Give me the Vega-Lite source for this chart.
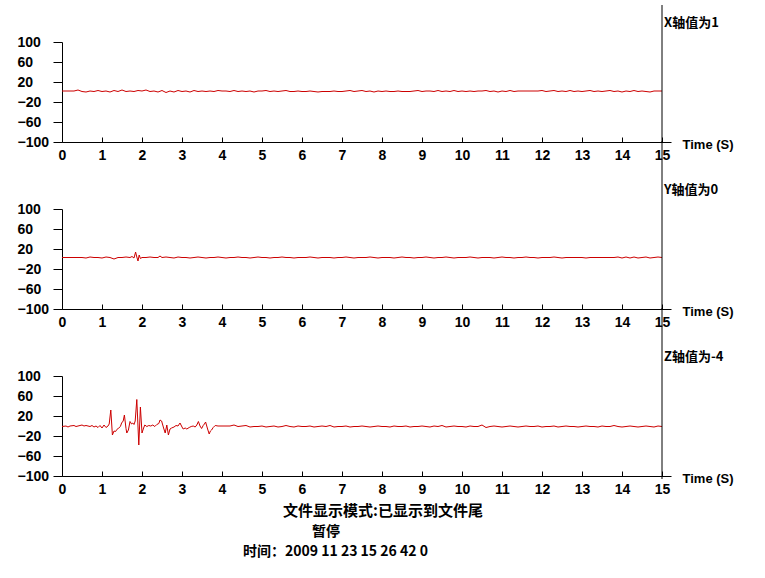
{
  "$schema": "https://vega.github.io/schema/vega-lite/v6.json",
  "padding": {"left": 17, "top": 4, "right": 5, "bottom": 5},
  "autosize": {"type": "pad"},
  "background": "white",
  "config": {"view": {"stroke": null}, "axis": {"grid": false, "labelOverlap": false, "domainColor": "black", "tickColor": "black", "labelColor": "black", "titleColor": "black", "labelFont": "Liberation Sans", "labelFontSize": 14, "labelFontWeight": "bold", "titleFont": "Liberation Sans", "titleFontSize": 13, "titleFontWeight": "bold"}},
  "spacing": 67,
  "bounds": "flush",
  "datasets": {
    "xs": [{"t":0,"v":2},{"t":0.1,"v":2},{"t":0.2,"v":2},{"t":0.3,"v":2},{"t":0.4,"v":4},{"t":0.5,"v":1},{"t":0.6,"v":0},{"t":0.7,"v":2},{"t":0.8,"v":1},{"t":0.9,"v":3},{"t":1.0,"v":1},{"t":1.1,"v":2},{"t":1.2,"v":0},{"t":1.3,"v":3},{"t":1.4,"v":1},{"t":1.5,"v":4},{"t":1.6,"v":1},{"t":1.7,"v":2},{"t":1.8,"v":1},{"t":1.9,"v":3},{"t":2.0,"v":2},{"t":2.1,"v":4},{"t":2.2,"v":1},{"t":2.3,"v":2},{"t":2.4,"v":0},{"t":2.5,"v":3},{"t":2.6,"v":-1},{"t":2.7,"v":2},{"t":2.8,"v":0},{"t":2.9,"v":3},{"t":3.0,"v":1},{"t":3.1,"v":2},{"t":3.2,"v":0},{"t":3.3,"v":3},{"t":3.4,"v":1},{"t":3.5,"v":2},{"t":3.6,"v":1},{"t":3.7,"v":2},{"t":3.8,"v":1},{"t":3.9,"v":3},{"t":4.0,"v":2},{"t":4.1,"v":2},{"t":4.2,"v":1},{"t":4.3,"v":3},{"t":4.4,"v":1},{"t":4.5,"v":2},{"t":4.6,"v":1},{"t":4.7,"v":2},{"t":4.8,"v":0},{"t":4.9,"v":2},{"t":5.0,"v":2},{"t":5.1,"v":3},{"t":5.2,"v":1},{"t":5.3,"v":2},{"t":5.4,"v":1},{"t":5.5,"v":2},{"t":5.6,"v":3},{"t":5.7,"v":1},{"t":5.8,"v":1},{"t":5.9,"v":2},{"t":6.0,"v":1},{"t":6.1,"v":1},{"t":6.2,"v":2},{"t":6.3,"v":1},{"t":6.4,"v":0},{"t":6.5,"v":1},{"t":6.6,"v":1},{"t":6.7,"v":1},{"t":6.8,"v":2},{"t":6.9,"v":1},{"t":7.0,"v":1},{"t":7.1,"v":2},{"t":7.2,"v":3},{"t":7.3,"v":1},{"t":7.4,"v":2},{"t":7.5,"v":3},{"t":7.6,"v":1},{"t":7.7,"v":2},{"t":7.8,"v":0},{"t":7.9,"v":2},{"t":8.0,"v":1},{"t":8.1,"v":2},{"t":8.2,"v":1},{"t":8.3,"v":1},{"t":8.4,"v":2},{"t":8.5,"v":1},{"t":8.6,"v":1},{"t":8.7,"v":1},{"t":8.8,"v":2},{"t":8.9,"v":3},{"t":9.0,"v":1},{"t":9.1,"v":2},{"t":9.2,"v":2},{"t":9.3,"v":1},{"t":9.4,"v":3},{"t":9.5,"v":1},{"t":9.6,"v":2},{"t":9.7,"v":1},{"t":9.8,"v":3},{"t":9.9,"v":1},{"t":10.0,"v":2},{"t":10.1,"v":1},{"t":10.2,"v":2},{"t":10.3,"v":1},{"t":10.4,"v":2},{"t":10.5,"v":2},{"t":10.6,"v":3},{"t":10.7,"v":1},{"t":10.8,"v":2},{"t":10.9,"v":0},{"t":11.0,"v":2},{"t":11.1,"v":1},{"t":11.2,"v":3},{"t":11.3,"v":1},{"t":11.4,"v":2},{"t":11.5,"v":2},{"t":11.6,"v":2},{"t":11.7,"v":2},{"t":11.8,"v":2},{"t":11.9,"v":2},{"t":12.0,"v":3},{"t":12.1,"v":1},{"t":12.2,"v":2},{"t":12.3,"v":3},{"t":12.4,"v":1},{"t":12.5,"v":2},{"t":12.6,"v":1},{"t":12.7,"v":3},{"t":12.8,"v":1},{"t":12.9,"v":2},{"t":13.0,"v":1},{"t":13.1,"v":2},{"t":13.2,"v":3},{"t":13.3,"v":1},{"t":13.4,"v":2},{"t":13.5,"v":1},{"t":13.6,"v":2},{"t":13.7,"v":3},{"t":13.8,"v":1},{"t":13.9,"v":2},{"t":14.0,"v":0},{"t":14.1,"v":2},{"t":14.2,"v":1},{"t":14.3,"v":3},{"t":14.4,"v":1},{"t":14.5,"v":2},{"t":14.6,"v":1},{"t":14.7,"v":0},{"t":14.8,"v":2},{"t":14.9,"v":2},{"t":15.0,"v":2}],
    "ys": [{"t":0,"v":3},{"t":0.1,"v":3},{"t":0.2,"v":3},{"t":0.3,"v":3},{"t":0.4,"v":3},{"t":0.5,"v":3},{"t":0.6,"v":2},{"t":0.7,"v":4},{"t":0.8,"v":3},{"t":0.9,"v":3},{"t":1.0,"v":2},{"t":1.1,"v":4},{"t":1.2,"v":3},{"t":1.3,"v":0},{"t":1.4,"v":3},{"t":1.5,"v":3},{"t":1.6,"v":4},{"t":1.7,"v":3},{"t":1.75,"v":5},{"t":1.8,"v":2},{"t":1.84,"v":14},{"t":1.87,"v":4},{"t":1.9,"v":-4},{"t":1.93,"v":8},{"t":1.96,"v":1},{"t":2.0,"v":3},{"t":2.1,"v":3},{"t":2.2,"v":4},{"t":2.3,"v":3},{"t":2.4,"v":3},{"t":2.45,"v":6},{"t":2.5,"v":3},{"t":2.6,"v":4},{"t":2.7,"v":3},{"t":2.8,"v":2},{"t":2.9,"v":4},{"t":3.0,"v":3},{"t":3.1,"v":3},{"t":3.2,"v":2},{"t":3.3,"v":3},{"t":3.4,"v":4},{"t":3.5,"v":3},{"t":3.6,"v":2},{"t":3.7,"v":3},{"t":3.8,"v":3},{"t":3.9,"v":4},{"t":4.0,"v":3},{"t":4.1,"v":2},{"t":4.2,"v":3},{"t":4.3,"v":3},{"t":4.4,"v":4},{"t":4.5,"v":3},{"t":4.6,"v":3},{"t":4.7,"v":2},{"t":4.8,"v":3},{"t":4.9,"v":4},{"t":5.0,"v":3},{"t":5.1,"v":3},{"t":5.2,"v":2},{"t":5.3,"v":3},{"t":5.4,"v":3},{"t":5.5,"v":4},{"t":5.6,"v":3},{"t":5.7,"v":3},{"t":5.8,"v":2},{"t":5.9,"v":3},{"t":6.0,"v":3},{"t":6.1,"v":3},{"t":6.2,"v":4},{"t":6.3,"v":3},{"t":6.4,"v":2},{"t":6.5,"v":3},{"t":6.6,"v":3},{"t":6.7,"v":3},{"t":6.8,"v":2},{"t":6.9,"v":3},{"t":7.0,"v":3},{"t":7.1,"v":4},{"t":7.2,"v":3},{"t":7.3,"v":2},{"t":7.4,"v":3},{"t":7.5,"v":3},{"t":7.6,"v":3},{"t":7.7,"v":4},{"t":7.8,"v":3},{"t":7.9,"v":2},{"t":8.0,"v":3},{"t":8.1,"v":3},{"t":8.2,"v":3},{"t":8.3,"v":2},{"t":8.4,"v":3},{"t":8.5,"v":4},{"t":8.6,"v":3},{"t":8.7,"v":3},{"t":8.8,"v":2},{"t":8.9,"v":3},{"t":9.0,"v":3},{"t":9.1,"v":4},{"t":9.2,"v":3},{"t":9.3,"v":2},{"t":9.4,"v":3},{"t":9.5,"v":3},{"t":9.6,"v":4},{"t":9.7,"v":3},{"t":9.8,"v":2},{"t":9.9,"v":3},{"t":10.0,"v":3},{"t":10.1,"v":3},{"t":10.2,"v":4},{"t":10.3,"v":3},{"t":10.4,"v":2},{"t":10.5,"v":3},{"t":10.6,"v":3},{"t":10.7,"v":3},{"t":10.8,"v":2},{"t":10.9,"v":3},{"t":11.0,"v":4},{"t":11.1,"v":3},{"t":11.2,"v":3},{"t":11.3,"v":2},{"t":11.4,"v":3},{"t":11.5,"v":3},{"t":11.6,"v":4},{"t":11.7,"v":3},{"t":11.8,"v":3},{"t":11.9,"v":2},{"t":12.0,"v":3},{"t":12.1,"v":3},{"t":12.2,"v":3},{"t":12.3,"v":4},{"t":12.4,"v":3},{"t":12.5,"v":2},{"t":12.6,"v":3},{"t":12.7,"v":3},{"t":12.8,"v":3},{"t":12.9,"v":3},{"t":13.0,"v":3},{"t":13.1,"v":2},{"t":13.2,"v":3},{"t":13.3,"v":3},{"t":13.4,"v":3},{"t":13.5,"v":3},{"t":13.6,"v":3},{"t":13.7,"v":3},{"t":13.8,"v":3},{"t":13.9,"v":4},{"t":14.0,"v":2},{"t":14.1,"v":4},{"t":14.2,"v":2},{"t":14.3,"v":4},{"t":14.4,"v":2},{"t":14.5,"v":3},{"t":14.6,"v":4},{"t":14.7,"v":2},{"t":14.8,"v":3},{"t":14.9,"v":4},{"t":15.0,"v":3}],
    "zs": [{"t":0,"v":-1},{"t":0.1,"v":0},{"t":0.15,"v":-2},{"t":0.2,"v":0},{"t":0.3,"v":1},{"t":0.35,"v":-1},{"t":0.4,"v":0},{"t":0.5,"v":2},{"t":0.55,"v":0},{"t":0.6,"v":1},{"t":0.7,"v":-1},{"t":0.75,"v":1},{"t":0.8,"v":-2},{"t":0.85,"v":0},{"t":0.9,"v":-3},{"t":0.95,"v":1},{"t":1.0,"v":-4},{"t":1.05,"v":2},{"t":1.1,"v":-3},{"t":1.15,"v":0},{"t":1.18,"v":4},{"t":1.22,"v":32},{"t":1.26,"v":-18},{"t":1.3,"v":-10},{"t":1.34,"v":-11},{"t":1.37,"v":-7},{"t":1.42,"v":-4},{"t":1.46,"v":-1},{"t":1.49,"v":6},{"t":1.53,"v":10},{"t":1.56,"v":22},{"t":1.6,"v":-5},{"t":1.62,"v":-14},{"t":1.66,"v":-8},{"t":1.7,"v":9},{"t":1.74,"v":4},{"t":1.77,"v":6},{"t":1.8,"v":3},{"t":1.83,"v":10},{"t":1.87,"v":53},{"t":1.92,"v":-38},{"t":1.96,"v":38},{"t":2.0,"v":-14},{"t":2.04,"v":-4},{"t":2.07,"v":2},{"t":2.12,"v":-1},{"t":2.17,"v":1},{"t":2.22,"v":0},{"t":2.27,"v":2},{"t":2.32,"v":-1},{"t":2.37,"v":3},{"t":2.42,"v":5},{"t":2.45,"v":12},{"t":2.49,"v":10},{"t":2.54,"v":-4},{"t":2.58,"v":-14},{"t":2.62,"v":2},{"t":2.66,"v":-18},{"t":2.7,"v":-6},{"t":2.74,"v":-4},{"t":2.8,"v":-2},{"t":2.85,"v":1},{"t":2.9,"v":0},{"t":2.95,"v":6},{"t":3.0,"v":-2},{"t":3.03,"v":-6},{"t":3.08,"v":-4},{"t":3.12,"v":-6},{"t":3.18,"v":-3},{"t":3.23,"v":-1},{"t":3.28,"v":0},{"t":3.33,"v":-2},{"t":3.37,"v":2},{"t":3.41,"v":9},{"t":3.45,"v":0},{"t":3.49,"v":-5},{"t":3.53,"v":1},{"t":3.56,"v":4},{"t":3.59,"v":8},{"t":3.64,"v":-6},{"t":3.68,"v":-16},{"t":3.71,"v":-10},{"t":3.74,"v":-8},{"t":3.78,"v":-3},{"t":3.83,"v":1},{"t":3.9,"v":0},{"t":4.0,"v":0},{"t":4.1,"v":0},{"t":4.2,"v":0},{"t":4.3,"v":2},{"t":4.4,"v":-1},{"t":4.5,"v":0},{"t":4.6,"v":1},{"t":4.7,"v":-2},{"t":4.8,"v":-1},{"t":4.9,"v":-1},{"t":5.0,"v":0},{"t":5.1,"v":-2},{"t":5.2,"v":-1},{"t":5.3,"v":0},{"t":5.4,"v":-2},{"t":5.5,"v":-1},{"t":5.6,"v":1},{"t":5.7,"v":-1},{"t":5.8,"v":-2},{"t":5.9,"v":0},{"t":6.0,"v":-1},{"t":6.1,"v":-1},{"t":6.2,"v":0},{"t":6.3,"v":-2},{"t":6.4,"v":-1},{"t":6.5,"v":0},{"t":6.6,"v":-1},{"t":6.7,"v":1},{"t":6.8,"v":-2},{"t":6.9,"v":-1},{"t":7.0,"v":-1},{"t":7.1,"v":0},{"t":7.2,"v":-2},{"t":7.3,"v":-1},{"t":7.4,"v":-1},{"t":7.5,"v":0},{"t":7.6,"v":-1},{"t":7.7,"v":-2},{"t":7.8,"v":-1},{"t":7.9,"v":0},{"t":8.0,"v":-1},{"t":8.1,"v":-1},{"t":8.2,"v":-2},{"t":8.3,"v":0},{"t":8.4,"v":-1},{"t":8.5,"v":-1},{"t":8.6,"v":0},{"t":8.7,"v":-2},{"t":8.8,"v":-1},{"t":8.9,"v":-1},{"t":9.0,"v":0},{"t":9.1,"v":-1},{"t":9.2,"v":-2},{"t":9.3,"v":0},{"t":9.4,"v":-1},{"t":9.5,"v":1},{"t":9.6,"v":-2},{"t":9.7,"v":-1},{"t":9.8,"v":0},{"t":9.9,"v":-1},{"t":10.0,"v":-1},{"t":10.1,"v":-2},{"t":10.2,"v":0},{"t":10.3,"v":-1},{"t":10.4,"v":-1},{"t":10.5,"v":2},{"t":10.6,"v":-3},{"t":10.7,"v":-1},{"t":10.8,"v":0},{"t":10.9,"v":-1},{"t":11.0,"v":-2},{"t":11.1,"v":-1},{"t":11.2,"v":0},{"t":11.3,"v":-1},{"t":11.4,"v":-2},{"t":11.5,"v":-1},{"t":11.6,"v":0},{"t":11.7,"v":-1},{"t":11.8,"v":-1},{"t":11.9,"v":0},{"t":12.0,"v":-2},{"t":12.1,"v":-1},{"t":12.2,"v":-1},{"t":12.3,"v":0},{"t":12.4,"v":-2},{"t":12.5,"v":-1},{"t":12.6,"v":0},{"t":12.7,"v":-1},{"t":12.8,"v":-1},{"t":12.9,"v":-2},{"t":13.0,"v":-1},{"t":13.1,"v":0},{"t":13.2,"v":-1},{"t":13.3,"v":-1},{"t":13.4,"v":-2},{"t":13.5,"v":0},{"t":13.6,"v":-1},{"t":13.7,"v":-1},{"t":13.8,"v":1},{"t":13.9,"v":-1},{"t":14.0,"v":-2},{"t":14.1,"v":-1},{"t":14.2,"v":0},{"t":14.3,"v":-1},{"t":14.4,"v":-2},{"t":14.5,"v":-1},{"t":14.6,"v":0},{"t":14.7,"v":-1},{"t":14.8,"v":-2},{"t":14.9,"v":0},{"t":15.0,"v":-1}]
  },
  "vconcat": [
    {
      "width": 609, "height": 100,
      "layer": [
        {"data": {"name": "xs"}, "mark": {"type": "line", "color": "#cc0000", "strokeWidth": 1},
         "encoding": {
           "x": {"field": "t", "type": "quantitative", "scale": {"domain": [0, 15.225], "nice": false, "zero": false},
                 "axis": {"values": [0,1,2,3,4,5,6,7,8,9,10,11,12,13,14,15], "tickCount": 20, "format": "d", "tickSize": -5, "labelPadding": 11, "labelFlush": false, "labelOverlap": false, "title": "Time (S)", "titleX": 620, "titleY": 2, "titleAlign": "left", "titleBaseline": "middle", "titleAngle": 0}},
           "y": {"field": "v", "type": "quantitative", "scale": {"domain": [-100, 100], "nice": false, "zero": false},
                 "axis": {"values": [-100,-60,-20,20,60,100], "tickCount": 10, "tickSize": 9, "labelPadding": 36, "labelAlign": "left", "title": null, "labelOverlap": false}}
         }},
        {"data": {"values": [{}]}, "mark": {"type": "rule", "color": "black", "strokeWidth": 1},
         "encoding": {"x": {"datum": 15}, "y": {"datum": 174}, "y2": {"datum": -100}}},
        {"data": {"values": [{}]}, "mark": {"type": "text", "align": "left", "baseline": "middle", "dx": 2, "dy": -19, "font": "Noto Sans CJK SC", "fontSize": 13, "fontWeight": "bold", "color": "black"},
         "encoding": {"x": {"datum": 15}, "y": {"datum": 100}, "text": {"value": "X轴值为1"}}}
      ]
    },
    {
      "width": 609, "height": 100,
      "layer": [
        {"data": {"name": "ys"}, "mark": {"type": "line", "color": "#cc0000", "strokeWidth": 1},
         "encoding": {
           "x": {"field": "t", "type": "quantitative", "scale": {"domain": [0, 15.225], "nice": false, "zero": false},
                 "axis": {"values": [0,1,2,3,4,5,6,7,8,9,10,11,12,13,14,15], "tickCount": 20, "format": "d", "tickSize": -5, "labelPadding": 11, "labelFlush": false, "labelOverlap": false, "title": "Time (S)", "titleX": 620, "titleY": 2, "titleAlign": "left", "titleBaseline": "middle", "titleAngle": 0}},
           "y": {"field": "v", "type": "quantitative", "scale": {"domain": [-100, 100], "nice": false, "zero": false},
                 "axis": {"values": [-100,-60,-20,20,60,100], "tickCount": 10, "tickSize": 9, "labelPadding": 36, "labelAlign": "left", "title": null, "labelOverlap": false}}
         }},
        {"data": {"values": [{}]}, "mark": {"type": "rule", "color": "black", "strokeWidth": 1},
         "encoding": {"x": {"datum": 15}, "y": {"datum": 236}, "y2": {"datum": -100}}},
        {"data": {"values": [{}]}, "mark": {"type": "text", "align": "left", "baseline": "middle", "dx": 2, "dy": -19, "font": "Noto Sans CJK SC", "fontSize": 13, "fontWeight": "bold", "color": "black"},
         "encoding": {"x": {"datum": 15}, "y": {"datum": 100}, "text": {"value": "Y轴值为0"}}}
      ]
    },
    {
      "width": 609, "height": 100,
      "layer": [
        {"data": {"name": "zs"}, "mark": {"type": "line", "color": "#cc0000", "strokeWidth": 1},
         "encoding": {
           "x": {"field": "t", "type": "quantitative", "scale": {"domain": [0, 15.225], "nice": false, "zero": false},
                 "axis": {"values": [0,1,2,3,4,5,6,7,8,9,10,11,12,13,14,15], "tickCount": 20, "format": "d", "tickSize": -5, "labelPadding": 11, "labelFlush": false, "labelOverlap": false, "title": "Time (S)", "titleX": 620, "titleY": 2, "titleAlign": "left", "titleBaseline": "middle", "titleAngle": 0}},
           "y": {"field": "v", "type": "quantitative", "scale": {"domain": [-100, 100], "nice": false, "zero": false},
                 "axis": {"values": [-100,-60,-20,20,60,100], "tickCount": 10, "tickSize": 9, "labelPadding": 36, "labelAlign": "left", "title": null, "labelOverlap": false}}
         }},
        {"data": {"values": [{}]}, "mark": {"type": "rule", "color": "black", "strokeWidth": 1},
         "encoding": {"x": {"datum": 15}, "y": {"datum": 236}, "y2": {"datum": -106}}},
        {"data": {"values": [{}]}, "mark": {"type": "text", "align": "left", "baseline": "middle", "dx": 2, "dy": -19, "font": "Noto Sans CJK SC", "fontSize": 13, "fontWeight": "bold", "color": "black"},
         "encoding": {"x": {"datum": 15}, "y": {"datum": 100}, "text": {"value": "Z轴值为-4"}}},
        {"data": {"values": [{}]}, "mark": {"type": "text", "align": "left", "baseline": "middle", "dx": 221, "dy": 35, "font": "Noto Sans CJK SC", "fontSize": 15, "fontWeight": "bold", "color": "black"},
         "encoding": {"x": {"datum": 0}, "y": {"datum": -100}, "text": {"value": "文件显示模式:已显示到文件尾"}}},
        {"data": {"values": [{}]}, "mark": {"type": "text", "align": "left", "baseline": "middle", "dx": 250, "dy": 56, "font": "Noto Sans CJK SC", "fontSize": 14, "fontWeight": "bold", "color": "black"},
         "encoding": {"x": {"datum": 0}, "y": {"datum": -100}, "text": {"value": "暂停"}}},
        {"data": {"values": [{}]}, "mark": {"type": "text", "align": "left", "baseline": "middle", "dx": 181, "dy": 76, "font": "Noto Sans CJK SC", "fontSize": 14, "fontWeight": "bold", "color": "black"},
         "encoding": {"x": {"datum": 0}, "y": {"datum": -100}, "text": {"value": "时间：2009 11 23 15 26 42 0"}}}
      ]
    }
  ]
}
